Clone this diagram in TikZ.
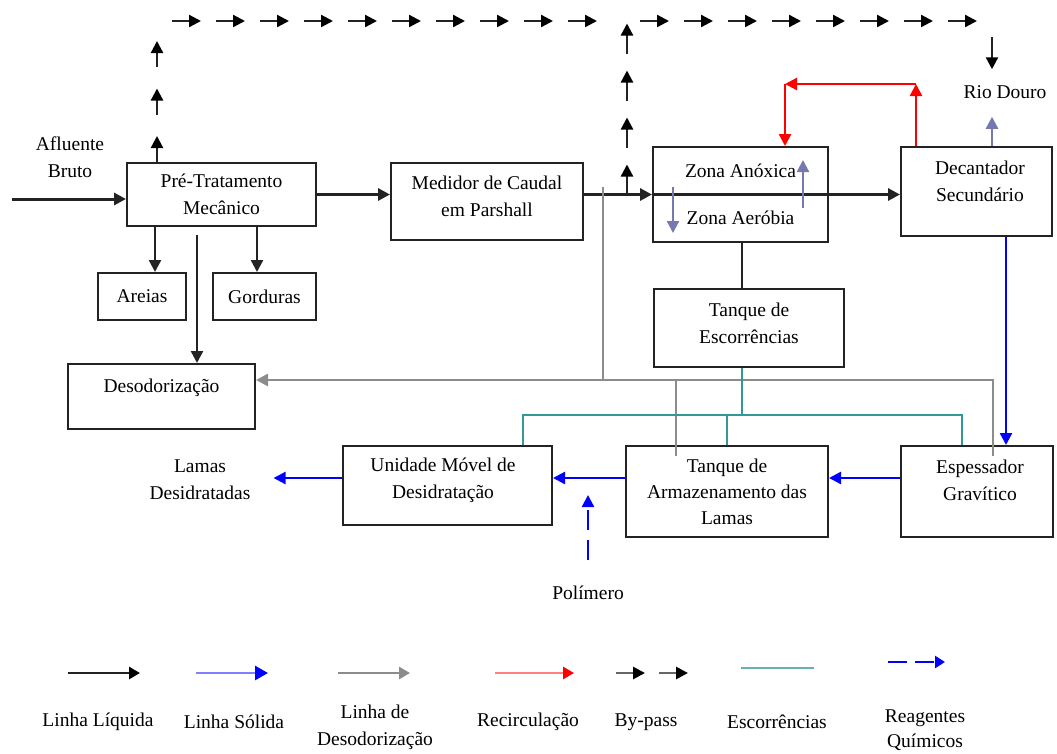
\documentclass[tikz,border=0pt]{standalone}
\usepackage{fontspec}
\setmainfont{Liberation Serif}
\usetikzlibrary{arrows.meta,decorations.markings}
\definecolor{tealc}{RGB}{50,152,152}
\definecolor{tealL}{RGB}{102,178,178}
\definecolor{slatec}{RGB}{120,120,176}
\definecolor{grayc}{RGB}{140,140,140}
\definecolor{darkc}{RGB}{35,35,35}
\begin{document}
\begin{tikzpicture}[x=1pt,y=-1pt,
  every node/.style={font=\fontsize{19.5}{27}\selectfont, inner sep=0pt, align=center, text=black},
  box/.style={draw=darkc, line width=2pt},
  head/.style={-{Triangle[length=12pt,width=12pt]}},
  liq/.style={draw=darkc, line width=3pt},
  liqt/.style={draw=darkc, line width=2.4pt},
  sol/.style={draw=blue, line width=2.4pt},
  deo/.style={draw=grayc, line width=2.7pt},
  rec/.style={draw=red, line width=2.4pt},
  esc/.style={draw=tealc, line width=2.1pt},
  slate/.style={draw=slatec, line width=2.3pt, head},
  reag/.style={draw=blue, line width=2.4pt, dash pattern=on 20pt off 10pt, head},
  bpa/.style={draw=darkc, line width=2.3pt, -{Triangle[length=12pt,width=12pt,color=black]}},
  bypass/.style n args={2}{decoration={markings, mark=between positions 0 and 1 step #1 with {\draw[bpa] (0pt,0pt) -- (#2,0pt);}}, decorate},
]
\useasboundingbox (0,0) rectangle (1057,753);

% ---------- boxes ----------
\node[box, minimum width=189pt, minimum height=63pt] (pre) at (221.5,194.5) {Pré-Tratamento\\Mecânico};
\node[box, minimum width=192pt, minimum height=77pt, label={[yshift=5.5pt]center:Medidor de Caudal\\em Parshall}] (med) at (487,201.5) {};
\node[box, minimum width=175pt, minimum height=95pt] (zona) at (740.5,194.5) {Zona Anóxica\\[20pt]Zona Aeróbia};
\node[box, minimum width=151pt, minimum height=89pt, label={[xshift=3.5pt,yshift=10pt]center:Decantador\\Secundário}] (dec) at (976.5,191.5) {};
\node[box, minimum width=88pt, minimum height=47pt] (areias) at (142,296.5) {Areias};
\node[box, minimum width=103pt, minimum height=47pt] (gord) at (264.5,296.5) {Gorduras};
\node[box, minimum width=187pt, minimum height=65pt, label={[yshift=8.5pt]center:Desodorização}] (deso) at (161.5,396.5) {};
\node[box, minimum width=190pt, minimum height=78pt, label={[yshift=5pt]center:Tanque de\\Escorrências}] (tesc) at (749,328) {};
\node[box, minimum width=209pt, minimum height=79pt, label={[xshift=-4.5pt,yshift=5.5pt]center:Unidade Móvel de\\Desidratação}] (unid) at (447.5,485.5) {};
\node[box, minimum width=202pt, minimum height=91pt, font=\fontsize{19.5}{26}\selectfont] (tarm) at (727,491.5) {Tanque de\\Armazenamento das\\Lamas};
\node[box, minimum width=152pt, minimum height=91pt, label={[xshift=3pt,yshift=11.5pt]center:Espessador\\Gravítico}] (esp) at (977,491.5) {};

% ---------- free texts ----------
\node (afl) at (70,157) {Afluente\\Bruto};
\node (rio) at (1005,92) {Rio Douro};
\node (lamas) at (200,480) {Lamas\\Desidratadas};
\node (pol) at (588,593) {Polímero};

% ---------- liquid line ----------
\coordinate (ain) at (12,199);
\draw[liq, head] (ain) -- (ain -| pre.west);
\draw[liq, head] (pre.east) -- (pre.east -| med.west);
\draw[liq, head] (med.east |- zona.west) -- (zona.west);
\draw[liq] (zona.west) -- (zona.east);
\draw[liq, head] (zona.east) -- (zona.east -| dec.west);
\draw[liqt, head] (155,0 |- pre.south) -- (155,0 |- areias.north);
\draw[liqt, head] (257,0 |- pre.south) -- (257,0 |- gord.north);
\draw[liqt, head, shorten <=8pt] (197,0 |- pre.south) -- (197,0 |- deso.north);
\draw[liqt] (742,0 |- zona.south) -- (742,0 |- tesc.north);

% ---------- zona internal arrows ----------
\coordinate (sd1) at (673,187); \coordinate (sd2) at (673,233);
\coordinate (su1) at (803,208); \coordinate (su2) at (803,160);
\draw[slate] (sd1) -- (sd2);
\draw[slate] (su1) -- (su2);
\draw[slate, shorten >=18pt] (992,0 |- dec.north) -- (992,0 |- rio.south);

% ---------- by-pass ----------
\coordinate (bv1) at (157,30);
\coordinate (bh1a) at (172,21); \coordinate (bh1b) at (605,21);
\coordinate (j2) at (627,194.5); \coordinate (bv2) at (627,20);
\coordinate (bh2a) at (640,21); \coordinate (bh2b) at (980,21);
\coordinate (br) at (992,37);
\path[bypass={47.5pt}{26pt}] (157,0 |- pre.north) -- (bv1);
\path[bypass={44pt}{29pt}] (bh1a) -- (bh1b);
\path[bypass={47pt}{30pt}] (j2) -- (bv2);
\path[bypass={44pt}{29pt}] (bh2a) -- (bh2b);
\draw[bpa, shorten >=16pt] (br) -- (992,0 |- rio.north);

% ---------- recirculation ----------
\coordinate (r1) at (916,84); \coordinate (r2) at (785,84);
\draw[rec, head] (916,0 |- dec.north) -- (r1);
\draw[rec, head] (r1) -- (r2);
\draw[rec, head] (r2) -- (785,0 |- zona.north);

% ---------- solid line ----------
\draw[sol, head] (1006,0 |- dec.south) -- (1006,0 |- esp.north);
\draw[sol, head] (esp.west |- 0,478) -- (tarm.east |- 0,478);
\draw[sol, head] (tarm.west |- 0,478) -- (unid.east |- 0,478);
\draw[sol, head, shorten >=23pt] (unid.west |- 0,478) -- (lamas.east |- 0,478);
\coordinate (polt) at (588,495);
\draw[reag, shorten <=26pt] (pol.north) -- (polt);

% ---------- deodorisation ----------
\coordinate (dg1) at (603,187); \coordinate (dg2) at (603,380);
\draw[deo] (dg1) -- (dg2);
\draw[deo, head] (993,0 |- esp.north) ++(0,11) -- (993,380) -- (deso.east |- 0,380);
\draw[deo] (676,0 |- tarm.north) ++(0,11) -- (676,380);

% ---------- escorrencias ----------
\draw[esc] (742,0 |- tesc.south) -- (742,415);
\draw[esc] (523,0 |- unid.north) -- (523,415) -- (962,415) -- (962,0 |- esp.north);
\draw[esc] (727,415) -- (727,0 |- tarm.north);

% ---------- legend ----------
\draw[draw=darkc, line width=2.8pt, -{Triangle[length=11pt,width=12pt,color=black]}] (68,673) -- (140,673);
\node at (98,722) {Linha Líquida};
\draw[draw=blue!50, line width=2.8pt, -{Triangle[length=13pt,width=14pt,color=blue]}] (196,673) -- (268,673);
\node at (234,722) {Linha Sólida};
\draw[draw=grayc, line width=2.8pt, -{Triangle[length=11pt,width=12pt,color=grayc]}] (338,673) -- (410,673);
\node at (375,727) {Linha de\\Desodorização};
\draw[draw=red!50, line width=2.8pt, -{Triangle[length=11pt,width=12pt,color=red]}] (495,673) -- (574,673);
\node at (528,722) {Recirculação};
\draw[draw=black!60, line width=2.8pt, -{Triangle[length=12pt,width=12pt,color=black]}] (616,673) -- (645,673);
\draw[draw=black!60, line width=2.8pt, -{Triangle[length=12pt,width=12pt,color=black]}] (659,673) -- (688,673);
\node at (646,722) {By-pass};
\draw[draw=tealL, line width=2.8pt] (741,668) -- (814,668);
\node at (777,722) {Escorrências};
\draw[draw=blue, line width=2.6pt, dash pattern=on 19pt off 8pt, -{Triangle[length=10pt,width=12pt,color=blue]}] (888,662) -- (945,662);
\node[font=\fontsize{19.5}{25}\selectfont] at (925,730) {Reagentes\\Químicos};
\end{tikzpicture}
\end{document}
